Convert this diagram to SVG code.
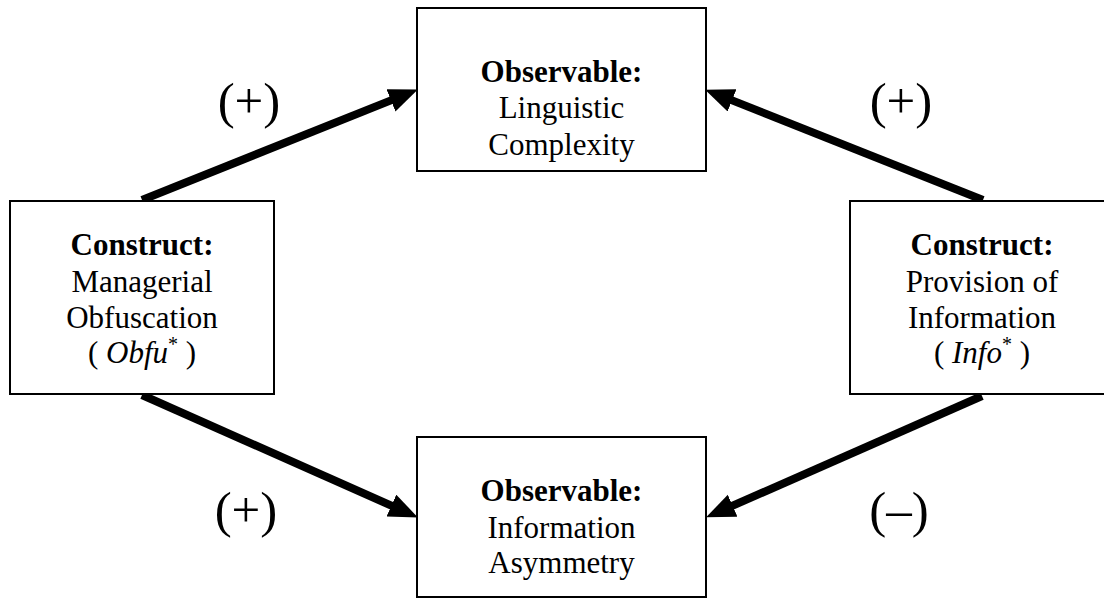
<svg xmlns="http://www.w3.org/2000/svg" width="1104" height="599" viewBox="0 0 1104 599">
<defs>
<marker id="ah" markerUnits="userSpaceOnUse" markerWidth="32" markerHeight="26" refX="8" refY="12" orient="auto">
<path d="M0,0 L29,12 L0,24 z" fill="#000"/>
</marker>
<style>
.box{fill:#fff;stroke:#000;stroke-width:2}
.t{font-family:"Liberation Serif","Times New Roman",serif;font-size:31px;fill:#000;text-anchor:middle}
.b{font-weight:bold}
.lab{font-family:"Liberation Serif","Times New Roman",serif;font-size:51px;fill:#000;text-anchor:middle}
.conn{stroke:#000;stroke-width:8;fill:none;marker-end:url(#ah)}
</style>
</defs>
<rect width="1104" height="599" fill="#fff"/>
<g id="connectors">
<line class="conn" x1="142" y1="200" x2="398.4" y2="97.4"/>
<line class="conn" x1="983" y1="200" x2="724.6" y2="97.4"/>
<line class="conn" x1="142" y1="395" x2="398.7" y2="508.9"/>
<line class="conn" x1="982" y1="396" x2="725.3" y2="508.9"/>
</g>
<g id="node-linguistic">
<rect class="box" x="417" y="8" width="289" height="163"/>
<text class="t b" x="561.5" y="82">Observable:</text>
<text class="t" x="561.5" y="118">Linguistic</text>
<text class="t" x="561.5" y="155">Complexity</text>
</g>
<g id="node-asymmetry">
<rect class="box" x="417" y="437" width="289" height="160"/>
<text class="t b" x="561.5" y="501">Observable:</text>
<text class="t" x="561.5" y="538">Information</text>
<text class="t" x="561.5" y="573">Asymmetry</text>
</g>
<g id="node-obfuscation">
<rect class="box" x="10" y="201" width="264" height="193"/>
<text class="t b" x="142" y="255">Construct:</text>
<text class="t" x="142" y="292">Managerial</text>
<text class="t" x="142" y="328">Obfuscation</text>
<text class="t" x="142" y="363">( <tspan font-style="italic">Obfu</tspan><tspan font-size="20" dy="-12">*</tspan><tspan dy="12"> )</tspan></text>
</g>
<g id="node-information">
<rect class="box" x="850" y="201" width="264" height="193"/>
<text class="t b" x="982" y="255">Construct:</text>
<text class="t" x="982" y="292">Provision of</text>
<text class="t" x="982" y="328">Information</text>
<text class="t" x="982" y="363">( <tspan font-style="italic">Info</tspan><tspan font-size="20" dy="-12">*</tspan><tspan dy="12"> )</tspan></text>
</g>
<g id="labels">
<text class="lab" x="249" y="118">(+)</text>
<text class="lab" x="901" y="118">(+)</text>
<text class="lab" x="246" y="527">(+)</text>
<text class="lab" x="899" y="527">(–)</text>
</g>
</svg>
